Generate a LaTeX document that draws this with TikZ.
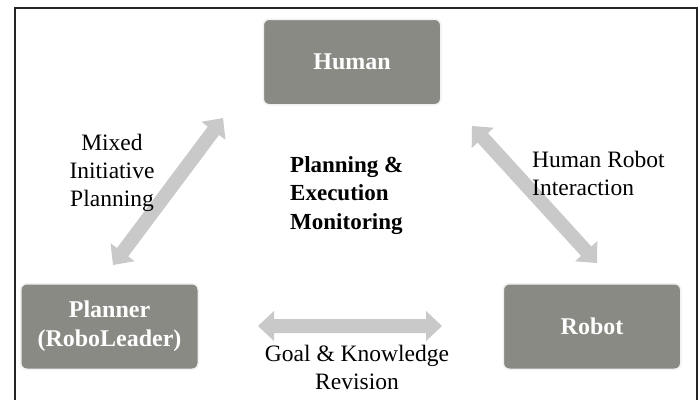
\documentclass[tikz,border=0pt]{standalone}
\usepackage{fontspec}
\setmainfont{Liberation Serif}
\usetikzlibrary{calc}

\definecolor{boxgray}{HTML}{8A8A85}
\definecolor{arrowgray}{HTML}{C9C9C9}
\definecolor{framecol}{HTML}{252525}

% block-arrow geometry
\def\ahl{16pt}   % head length
\def\ahw{15pt}   % head half width
\def\asw{7pt}    % shaft half width

% double-headed block arrow between two named coordinates
\newcommand\blockarrow[2]{%
  \fill[arrowgray]
    (#1)
    -- ($(#1)!\ahl!(#2)!\ahw!90:(#2)$)
    -- ($(#1)!\ahl!(#2)!\asw!90:(#2)$)
    -- ($(#2)!\ahl!(#1)!\asw!-90:(#1)$)
    -- ($(#2)!\ahl!(#1)!\ahw!-90:(#1)$)
    -- (#2)
    -- ($(#2)!\ahl!(#1)!\ahw!90:(#1)$)
    -- ($(#2)!\ahl!(#1)!\asw!90:(#1)$)
    -- ($(#1)!\ahl!(#2)!\asw!-90:(#2)$)
    -- ($(#1)!\ahl!(#2)!\ahw!-90:(#2)$)
    -- cycle;}

\tikzset{
  agent/.style={rounded corners=6pt, fill=boxgray, draw=black!5, line width=1.5pt,
    minimum width=177.5pt, minimum height=85.5pt, inner sep=0pt, align=center,
    text=white, font=\bfseries\fontsize{24}{29}\selectfont},
  lbl/.style={inner sep=0pt, font=\fontsize{23.5}{28}\selectfont},
  boldlbl/.style={inner sep=0pt, align=left, font=\bfseries\fontsize{23}{28.5}\selectfont}
}

\begin{document}
\begin{tikzpicture}[x=1pt, y=-1pt]
\useasboundingbox (0,0) rectangle (700,400);
\fill[white] (0,0) rectangle (700,400);

% outer frame, open at the bottom
\draw[framecol, line width=2pt] (15,400) -- (15,8) -- (697,8) -- (697,400);

% agents
\node[agent] (human)   at (352,62)      {Human};
\node[agent] (planner) at (109.5,326.5) {Planner\\(RoboLeader)};
\node[agent] (robot)   at (592,326.5)   {Robot};

% arrow end points
\coordinate (lp) at (113,265);
\coordinate (lh) at (223,118);
\coordinate (rh) at (472,126);
\coordinate (rr) at (597,263);
\coordinate (bp) at (258,326);
\coordinate (br) at (442,326);

\blockarrow{lp}{lh}
\blockarrow{rh}{rr}
\blockarrow{bp}{br}

% labels (anchored at the baseline of their last line)
\node[lbl, align=center, anchor=base] (mip) at (112,206)
  {Mixed\\Initiative\\Planning};
\node[lbl, align=left, anchor=base west] (hri) at (532,195)
  {Human Robot\\Interaction};
\node[boldlbl, anchor=base west] (pem) at (290,229)
  {Planning \&\\Execution\\Monitoring};
\node[lbl, align=center, anchor=base] (gkr) at (357,389)
  {Goal \& Knowledge\\Revision};
\end{tikzpicture}
\end{document}
